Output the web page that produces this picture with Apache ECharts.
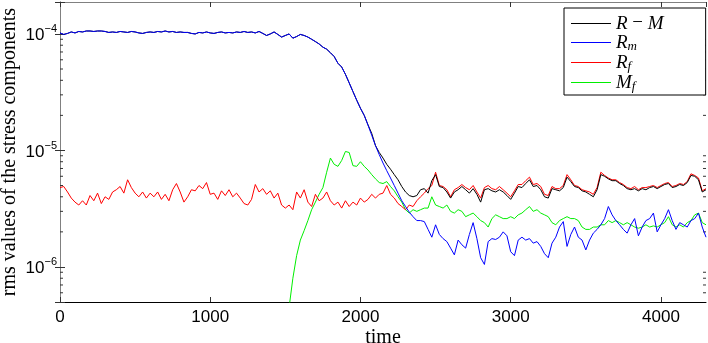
<!DOCTYPE html>
<html>
<head>
<meta charset="utf-8">
<script src="https://cdn.jsdelivr.net/npm/echarts@6/dist/echarts.min.js"></script>
<style>
  html, body { margin: 0; padding: 0; background: #fff; }
  #main { width: 708px; height: 343px; }
</style>
</head>
<body>
<div id="main"></div>
<script>
// values are in units of 1e-6, sampled every 25 time units (0 .. 4300)
var tStep = 25;
var tMax = 4300;

var rmVals = [
  102,99,101,104,102,105,104,106,106,105,106,106,105,103,104,103,105,104,103,105,
  104,102,101,103,104,103,105,104,106,104,105,103,104,103,103,101,100,103,102,104,
  102,101,103,104,102,103,102,104,103,105,103,104,102,105,101,97,100,104,99,94,
  97,100,92,95,99,97,94,90,86,82,77,74,69,64,56,52,45,38,32,27,
  23,20,16.5,13.5,11,9.2,7.8,6.7,5.8,5.0,4.3,3.7,3.3,2.95,2.7,2.5,2.5,2.45,2.1,1.8,
  2.3,1.9,1.75,1.65,1.45,1.27,1.7,1.55,1.45,1.9,2.4,1.75,1.2,1.05,1.65,1.75,1.72,1.8,2.0,1.85,
  1.35,1.25,1.7,1.8,1.7,1.75,1.6,1.65,1.5,1.3,1.2,1.6,1.8,2.2,2.45,1.5,1.9,2.2,1.8,1.7,
  1.4,1.7,1.95,2.1,2.3,2.6,3.3,2.8,2.5,2.3,2.1,1.95,2.3,2.6,1.85,2.2,2.5,2.6,2.9,2.0,
  2.3,2.6,3.1,2.5,2.1,2.4,2.3,2.2,2.5,2.6,2.9,2.2,1.8
];

var rMinusMVals = [
  102,99,101,104,102,105,104,106,106,105,106,106,105,103,104,103,105,104,103,105,
  104,102,101,103,104,103,105,104,106,104,105,103,104,103,103,101,100,103,102,104,
  102,101,103,104,102,103,102,104,103,105,103,104,102,105,101,97,100,104,99,94,
  97,100,92,95,99,97,94,90,86,82,77,74,69,64,56,52,45,38,32,27,
  23,20,16.6,14,11,9.6,8.6,7.6,6.9,6.2,5.6,4.9,4.4,4.1,4.0,4.1,4.6,4.7,4.3,5.5,
  6.2,4.9,4.8,4.4,3.9,4.4,4.6,4.9,4.6,4.3,4.7,4.2,3.6,4.6,4.7,4.5,4.4,4.6,4.4,4.1,
  3.8,4.3,4.9,4.8,5.2,5.6,4.9,5.0,4.6,4.0,3.9,4.7,4.6,4.5,4.8,5.9,5.4,4.9,4.8,4.5,
  4.4,4.2,4.0,4.6,6.2,6.0,5.7,5.5,5.5,5.2,5.0,4.7,4.6,4.7,4.5,4.7,4.6,4.8,4.9,4.7,
  4.9,5.1,5.2,4.8,4.9,5.1,5.0,5.3,6.1,6.0,5.6,4.4,4.6
];

var rfVals = [
  4.8,4.9,4.4,3.9,3.6,3.4,3.7,3.4,4.1,3.7,4.3,3.5,4.0,3.8,4.4,4.6,4.9,4.3,5.6,4.8,
  4.3,4.0,4.4,3.9,4.3,4.0,4.4,3.8,4.2,3.7,4.6,5.2,4.4,3.6,4.0,4.6,4.5,5.0,4.7,5.3,
  4.2,4.3,3.8,4.5,4.1,4.6,4.0,4.3,3.9,3.5,3.4,3.8,5.1,4.4,4.7,4.2,4.5,3.9,4.3,3.4,
  3.2,3.4,3.1,4.4,3.9,4.6,3.6,3.3,4.2,3.7,3.9,4.4,3.7,3.4,3.6,3.2,3.7,3.3,3.6,3.4,
  3.9,3.6,3.8,4.2,3.9,4.2,4.3,5.0,4.2,3.9,3.5,3.3,3.1,3.4,3.3,3.7,4.0,4.3,4.7,5.0,
  6.5,5.0,4.9,4.6,4.0,4.6,4.8,5.1,4.8,4.6,5.0,4.4,3.9,4.8,5.0,4.7,4.6,4.9,4.6,4.3,
  4.0,4.5,5.1,5.1,5.5,5.9,5.1,5.2,4.9,4.2,4.1,4.9,4.7,4.7,5.0,6.2,5.6,5.0,4.9,4.6,
  4.5,4.4,4.2,4.8,6.5,6.1,5.8,5.6,5.6,5.3,5.1,4.8,4.7,4.9,4.6,4.8,4.8,4.9,5.0,4.8,
  5.0,5.2,5.3,4.9,5.0,5.2,5.1,5.4,6.3,6.1,5.8,4.5,4.7
];

var mfVals = [
  null,null,null,null,null,null,null,null,null,null,null,null,null,null,null,null,null,null,null,null,
  null,null,null,null,null,null,null,null,null,null,null,null,null,null,null,null,null,null,null,null,
  null,null,null,null,null,null,null,null,null,null,null,null,null,null,null,null,null,null,null,null,
  null,0.45,0.8,1.25,1.7,2.05,2.5,3.1,3.6,4.2,4.8,6.5,8.6,7.6,7.3,8.2,9.8,9.6,7.4,7.3,
  8.0,7.3,6.8,6.2,5.7,5.3,5.2,5.4,4.9,4.5,4.0,3.6,3.1,2.9,3.1,3.0,3.1,3.2,3.2,4.0,
  3.4,3.3,3.2,3.4,3.0,2.9,3.1,3.0,2.7,2.8,2.9,2.7,2.5,2.4,2.2,2.6,2.8,2.7,2.6,2.6,
  2.7,2.6,2.8,2.9,3.1,3.3,3.0,3.1,2.9,2.8,2.7,2.4,2.3,2.5,2.6,2.7,2.6,2.6,2.5,2.2,
  2.1,2.1,2.2,2.2,2.3,2.3,2.5,2.4,2.5,2.4,2.3,2.4,2.3,2.2,2.15,2.2,2.3,2.2,2.25,2.2,
  2.3,2.4,2.7,2.3,2.2,2.3,2.2,2.4,2.5,2.8,2.9,2.4,2.3
];

var seriesNames = ['R−M', 'Rm', 'Rf', 'Mf'];
var seriesColors = ['#000000', '#0000ff', '#ff0000', '#00ee00'];

var xTicks = [0, 1000, 2000, 3000, 4000];
var decadeLabels = { '1': '−6', '10': '−5', '100': '−4' };
var minorTickVals = [0.6,0.7,0.8,0.9, 2,3,4,5,6,7,8,9, 20,30,40,50,60,70,80,90];

var yMin = 0.5, yMax = 188;

function pairs(vals) {
  var out = [];
  for (var i = 0; i < vals.length; i++) {
    out.push([i * tStep, vals[i]]);
  }
  return out;
}

function decadeLabel(value) {
  var e = Math.round(Math.log10(value));
  if (Math.abs(Math.log10(value) - e) > 1e-6) return '';
  var sup = decadeLabels[String(Math.pow(10, e))];
  if (!sup) return '';
  return '{b|10}{s|' + sup + '}';
}

var tickFont = 'Liberation Sans';
var serif = 'Liberation Serif';

var chart = echarts.init(document.getElementById('main'), null, { renderer: 'canvas' });

function lineSeries(idx, vals, z) {
  return {
    name: seriesNames[idx],
    type: 'line',
    data: pairs(vals),
    symbol: 'none',
    showSymbol: false,
    connectNulls: false,
    z: z,
    lineStyle: { color: seriesColors[idx], width: 1 },
    itemStyle: { color: seriesColors[idx] },
    animation: false
  };
}

// thin rectangles as legend samples; row height 21 keeps them on whole pixels
var legendData = seriesNames.map(function(name, i) {
  return { name: name, icon: 'rect', itemStyle: { color: seriesColors[i], opacity: 1 } };
});

var option = {
  animation: false,
  backgroundColor: '#fff',
  grid: { left: 60, right: 2, top: 2, bottom: 41, containLabel: false, outerBoundsMode: 'none' },
  legend: {
    orient: 'vertical',
    left: 564,
    top: 8,
    data: legendData,
    itemWidth: 40,
    itemHeight: 1,
    itemGap: 0,
    padding: [6, 42, 2, 7],
    backgroundColor: '#fff',
    borderColor: '#000',
    borderWidth: 1,
    borderRadius: 0,
    formatter: function(name) {
      if (name === 'R−M') return '{i|R} {o|−} {i|M}';
      return '{i|' + name.charAt(0) + '}{sub|' + name.charAt(1) + '}';
    },
    textStyle: {
      fontFamily: serif,
      fontSize: 19,
      color: '#000',
      rich: {
        i: { fontFamily: serif, fontStyle: 'italic', fontSize: 19, lineHeight: 21 },
        o: { fontFamily: serif, fontSize: 19, lineHeight: 21 },
        sub: { fontFamily: serif, fontStyle: 'italic', fontSize: 13, lineHeight: 10, verticalAlign: 'bottom' }
      }
    }
  },
  xAxis: [{
    type: 'value',
    min: 0,
    max: tMax,
    interval: 1000,
    position: 'bottom',
    name: 'time',
    nameLocation: 'middle',
    nameGap: 26,
    nameMoveOverlap: false,
    nameTextStyle: { fontFamily: serif, fontSize: 20, color: '#000' },
    axisLine: { onZero: false, lineStyle: { color: '#000', width: 1 } },
    axisTick: { inside: true, length: 5, lineStyle: { color: '#333' } },
    axisLabel: {
      margin: 7,
      fontFamily: tickFont,
      fontSize: 17,
      color: '#000',
      showMaxLabel: false,
      formatter: function(v) { return xTicks.indexOf(v) >= 0 ? String(v) : ''; }
    },
    splitLine: { show: false }
  }, {
    type: 'value',
    min: 0,
    max: tMax,
    interval: 1000,
    position: 'top',
    axisLine: { onZero: false, lineStyle: { color: '#808080', width: 1 } },
    axisTick: { inside: true, length: 5, lineStyle: { color: '#333' } },
    axisLabel: { show: false },
    splitLine: { show: false }
  }],
  yAxis: [{
    type: 'log',
    logBase: 10,
    min: yMin,
    max: yMax,
    position: 'left',
    name: 'rms values of the stress components',
    nameLocation: 'middle',
    nameGap: 40,
    nameMoveOverlap: false,
    nameRotate: 90,
    nameTextStyle: { fontFamily: serif, fontSize: 20, color: '#000' },
    axisLine: { lineStyle: { color: '#808080', width: 1 } },
    axisTick: { inside: true, length: 5, lineStyle: { color: '#333' } },
    axisLabel: {
      margin: 3,
      formatter: decadeLabel,
      rich: {
        b: { fontFamily: tickFont, fontSize: 17, color: '#000', lineHeight: 20, verticalAlign: 'bottom' },
        s: { fontFamily: tickFont, fontSize: 11, color: '#000', lineHeight: 12, verticalAlign: 'top' }
      }
    },
    splitLine: { show: false }
  }, {
    type: 'log',
    logBase: 10,
    min: yMin,
    max: yMax,
    position: 'right',
    axisLine: { lineStyle: { color: '#808080', width: 1 } },
    axisTick: { inside: true, length: 5, lineStyle: { color: '#333' } },
    axisLabel: { show: false },
    splitLine: { show: false }
  }],
  series: [
    {
      name: 'minor ticks',
      type: 'custom',
      silent: true,
      clip: false,
      z: 1,
      data: minorTickVals.map(function(v) { return [0, v]; }),
      renderItem: function(params, api) {
        var left = api.coord([0, api.value(1)]);
        var right = api.coord([tMax, api.value(1)]);
        var style = { stroke: '#333', lineWidth: 1 };
        return {
          type: 'group',
          children: [
            { type: 'line', shape: { x1: left[0], y1: left[1], x2: left[0] + 3, y2: left[1] }, style: style },
            { type: 'line', shape: { x1: right[0], y1: right[1], x2: right[0] - 3, y2: right[1] }, style: style }
          ]
        };
      }
    },
    lineSeries(3, mfVals, 2),
    lineSeries(2, rfVals, 3),
    lineSeries(0, rMinusMVals, 4),
    lineSeries(1, rmVals, 5)
  ]
};

chart.setOption(option);
</script>
</body>
</html>
